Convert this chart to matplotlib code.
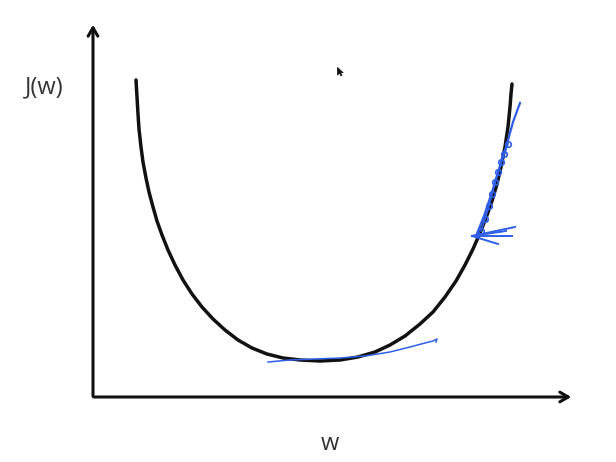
import matplotlib.pyplot as plt

# cost curve J(w) (x right, y up, in pixel-like units)
curve_w = [136, 137, 138, 139, 141, 143, 146, 149, 153, 157, 162, 168, 175, 183, 192,
           202, 213, 225, 238, 252, 267, 283, 300, 320,
           340, 358, 375, 390, 405, 420, 433, 445, 456, 465, 473, 480, 486, 492, 497,
           501, 505, 508, 510, 511, 512]
curve_j = [382, 365, 348, 333, 315, 300, 284, 270, 255, 241, 227, 212, 197, 182, 168,
           155, 143, 132, 122, 114, 108, 104, 102, 101,
           102, 105, 110, 117, 126, 138, 150, 165, 181, 197, 213, 229, 244, 261, 278,
           295, 315, 335, 355, 368, 378]

# blue hand-drawn tangent near the minimum
flat_w = [268, 290, 315, 340, 365, 390, 410, 425, 433, 437, 436]
flat_j = [100, 102, 103, 104, 106, 110, 115, 119, 121, 123, 120]

# blue hand-drawn tangent on the right side
steep_w = [476, 484, 492, 500, 507, 513, 520]
steep_j = [226, 246, 270, 296, 318, 340, 359]
scrib_w = [481, 485, 489, 492, 495, 498, 501, 504, 508]
scrib_j = [231, 243, 256, 268, 280, 290, 300, 308, 318]

# arrow strokes pointing at the tangent point
tail_w = [515, 512, 498, 506]
tail_j = [235, 226, 218, 231]
tip_w, tip_j = 472, 226

blue = '#2f5fe6'

fig = plt.figure(figsize=(6.16, 4.62), dpi=100)
ax = fig.add_axes([0, 0, 1, 1])
ax.set_xlim(0, 616)
ax.set_ylim(0, 462)
ax.axis('off')

# axes with open arrow heads
ax.annotate('', xy=(93, 440), xytext=(93, 63),
            arrowprops=dict(arrowstyle='->,head_length=0.6,head_width=0.35', lw=2.2, color='#111111'))
ax.annotate('', xy=(574, 65), xytext=(91, 65),
            arrowprops=dict(arrowstyle='->,head_length=0.6,head_width=0.35', lw=2.2, color='#111111'))

ax.plot(curve_w, curve_j, color='#111111', lw=2.5, solid_capstyle='round', solid_joinstyle='round')

ax.plot(flat_w, flat_j, color=blue, lw=1.1)
ax.plot(steep_w, steep_j, color=blue, lw=1.6)
ax.plot(scrib_w, scrib_j, color=blue, lw=1.2, marker='o', ms=4, mfc='none', mew=1.2)
for w, j in zip(tail_w, tail_j):
    ax.plot([tip_w, w], [tip_j, j], color=blue, lw=1.4)

ax.text(44, 375, 'J(w)', fontsize=17, family='Open Sans', color='#333333', ha='center', va='center')
ax.text(330, 18, 'w', fontsize=17, family='Open Sans', color='#333333', ha='center', va='center')

# mouse cursor (pointer shape, tip at the origin of the marker)
pointer = [(0, 0), (0, -1), (0.27, -0.74), (0.45, -1.1), (0.6, -1.03), (0.42, -0.68), (0.75, -0.68), (0, 0)]
ax.plot([337], [395], marker=pointer, ms=12, color='#111111', mew=0.5)

fig.savefig('out.png', dpi=100)
